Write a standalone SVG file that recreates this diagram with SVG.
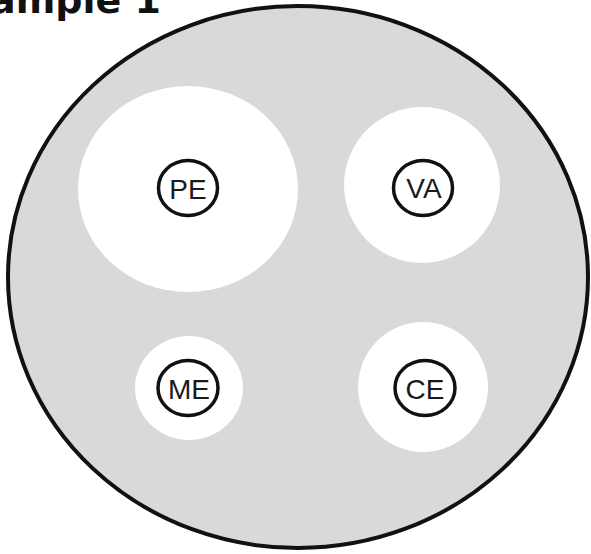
<svg xmlns="http://www.w3.org/2000/svg" width="591" height="554" viewBox="0 0 591 554">
  <style>
    .well { fill: #ffffff; stroke: none; }
    .ring { fill: #ffffff; stroke: #111111; stroke-width: 3.5; }
    .lbl { font-family: "Liberation Sans", Arial, sans-serif; font-size: 28px; fill: #1a1a1a; text-anchor: middle; }
    .title { font-family: "DejaVu Sans", "Liberation Sans", sans-serif; font-weight: bold; font-size: 38px; fill: #111111; text-anchor: end; }
  </style>
  <rect width="591" height="554" fill="#ffffff"/>
  <text class="title" x="161" y="13">Sample 1</text>
  <g id="plate">
    <ellipse cx="298" cy="277" rx="290" ry="271" fill="#d9d9d9" stroke="#111111" stroke-width="4"/>
  </g>
  <g id="PE">
    <ellipse class="well" cx="188" cy="189" rx="110" ry="103"/>
    <ellipse class="ring" cx="188" cy="188" rx="29.5" ry="27.5"/>
    <text class="lbl" x="188" y="199">PE</text>
  </g>
  <g id="VA">
    <ellipse class="well" cx="422" cy="185" rx="78" ry="78"/>
    <ellipse class="ring" cx="423" cy="188" rx="29.5" ry="27.5"/>
    <text class="lbl" x="424" y="198">VA</text>
  </g>
  <g id="ME">
    <ellipse class="well" cx="189" cy="388" rx="54" ry="52"/>
    <ellipse class="ring" cx="188" cy="388" rx="30" ry="27.5"/>
    <text class="lbl" x="189" y="399">ME</text>
  </g>
  <g id="CE">
    <ellipse class="well" cx="423" cy="387" rx="65" ry="65"/>
    <ellipse class="ring" cx="425" cy="388" rx="30" ry="27.5"/>
    <text class="lbl" x="425" y="399">CE</text>
  </g>
  <g id="connectors"/>
</svg>
